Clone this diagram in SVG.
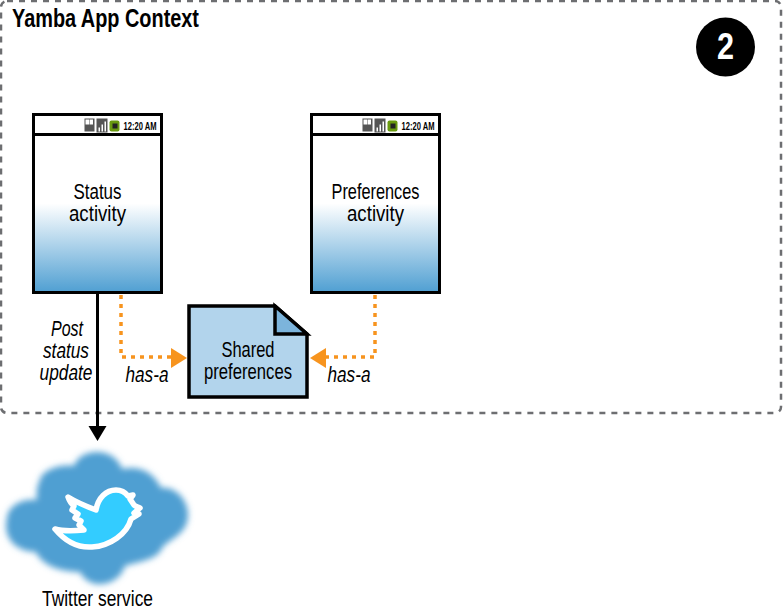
<svg xmlns="http://www.w3.org/2000/svg" width="783" height="613" viewBox="0 0 783 613">
<style>
text{font-family:"Liberation Sans",Arial,sans-serif;fill:#000}
.l{font-size:21.500px;text-anchor:middle}
.i{font-size:21.500px;text-anchor:middle;font-style:italic}
.screen{stroke:#000;stroke-width:3;fill:url(#sg)}
.bar{fill:#fff;stroke:#000;stroke-width:3}
.t{font-size:10px;font-weight:bold}
.dash{fill:none;stroke:#f7941e;stroke-width:3.500;stroke-dasharray:4 5}
</style>
<defs>
<linearGradient id="sg" x1="0" y1="0" x2="0" y2="1">
<stop offset="0" stop-color="#fff"/><stop offset=".5" stop-color="#fff"/><stop offset="1" stop-color="#4f9fd2"/>
</linearGradient>
<filter id="blur" x="-10%" y="-10%" width="120%" height="120%"><feGaussianBlur stdDeviation="3"/></filter>
<g id="status">
<rect x="0" y="0" width="128" height="178" class="screen"/>
<rect x="0" y="0" width="128" height="20" class="bar"/>
<rect x="51" y="4" width="10" height="13" fill="#555"/><rect x="52" y="5" width="3.500" height="5" fill="#fff"/><rect x="56" y="5" width="3.500" height="5" fill="#fff"/>
<rect x="63" y="4" width="11" height="14" fill="#555"/><rect x="65" y="13" width="1.500" height="4" fill="#fff"/><rect x="68" y="10" width="1.500" height="7" fill="#fff"/><rect x="71" y="7" width="1.500" height="10" fill="#fff"/>
<rect x="76" y="6" width="10" height="11" rx="2" fill="#6a9a10"/><rect x="79" y="9" width="5" height="5" fill="#222"/>
<text x="90" y="15" class="t" textLength="33" lengthAdjust="spacingAndGlyphs">12:20 AM</text>
</g>
</defs>
<g id="context">
<rect x="1" y="1" width="780" height="412" rx="6" fill="none" stroke="#6d6e71" stroke-width="2.500" stroke-dasharray="6 6"/>
<text x="12" y="27" font-size="26" font-weight="bold" textLength="187" lengthAdjust="spacingAndGlyphs">Yamba App Context</text>
</g>
<g id="badge">
<circle cx="725.500" cy="47" r="29.500" fill="#000"/>
<text x="725.500" y="59" font-size="37" font-weight="bold" text-anchor="middle" style="fill:#fff" textLength="17" lengthAdjust="spacingAndGlyphs">2</text>
</g>
<g id="connectors">
<path d="M97.500 293V428" stroke="#000" stroke-width="3" fill="none"/>
<path d="M88.500 426H106.500L97.500 441Z" fill="#000"/>
<path class="dash" d="M121 295V357H172"/>
<path d="M171 348L187 358L171 368Z" fill="#f7941e"/>
<path class="dash" d="M375 295V357H324"/>
<path d="M326 348L310 358L326 368Z" fill="#f7941e"/>
</g>
<g id="status-activity">
<use href="#status" x="33.500" y="114.500"/>
<text class="l" x="97.500" y="199" textLength="48" lengthAdjust="spacingAndGlyphs">Status</text>
<text class="l" x="97.500" y="221" textLength="57" lengthAdjust="spacingAndGlyphs">activity</text>
</g>
<g id="preferences-activity">
<use href="#status" x="311.500" y="114.500"/>
<text class="l" x="375.500" y="199" textLength="88" lengthAdjust="spacingAndGlyphs">Preferences</text>
<text class="l" x="375.500" y="221" textLength="57" lengthAdjust="spacingAndGlyphs">activity</text>
</g>
<g id="shared-preferences">
<path d="M189 306H275L307 334V397H189Z" fill="#b2d4ec" stroke="#000" stroke-width="3.500"/>
<path d="M275 306V334H307Z" fill="#7cb4dc" stroke="#000" stroke-width="3.500"/>
<text class="l" x="248" y="357" textLength="53" lengthAdjust="spacingAndGlyphs">Shared</text>
<text class="l" x="248" y="379" textLength="88" lengthAdjust="spacingAndGlyphs">preferences</text>
</g>
<g id="labels">
<text class="i" x="67" y="336" textLength="32" lengthAdjust="spacingAndGlyphs">Post</text>
<text class="i" x="66" y="358" textLength="46" lengthAdjust="spacingAndGlyphs">status</text>
<text class="i" x="66" y="380" textLength="53" lengthAdjust="spacingAndGlyphs">update</text>
<text class="i" x="147" y="382" textLength="43" lengthAdjust="spacingAndGlyphs">has-a</text>
<text class="i" x="349" y="382" textLength="43" lengthAdjust="spacingAndGlyphs">has-a</text>
</g>
<g id="twitter-service">
<path filter="url(#blur)" fill="#4f9fd2" d="M40 480C42 470 60 464 74 466C80 448 114 446 122 469C134 466 152 468 161 488C178 486 192 505 187 522C183 536 168 540 162 548C158 560 136 562 125 566C118 588 88 590 80 572C62 572 42 566 36 552C18 552 2 540 7 518C8 506 22 498 37 500C36 492 37 486 40 480Z"/>
<path d="M68 497C76 502 88 507 96 510C98 498 106 490 116 490C121 490 125 492 128 496L133 495L130 499L134 505C136 507 139 507 140 508L134 513L139 514L131 519C127 534 110 546 92 547C78 548 65 541 55 529C62 531 72 531 84 530L79 525L81 521L75 518L78 514L72 510L74 506C70 503 69 500 68 497Z" fill="#33ccff" stroke="#fff" stroke-width="5.500" stroke-linejoin="round"/>
<text class="l" x="97.500" y="606" textLength="111" lengthAdjust="spacingAndGlyphs">Twitter service</text>
</g>
</svg>
